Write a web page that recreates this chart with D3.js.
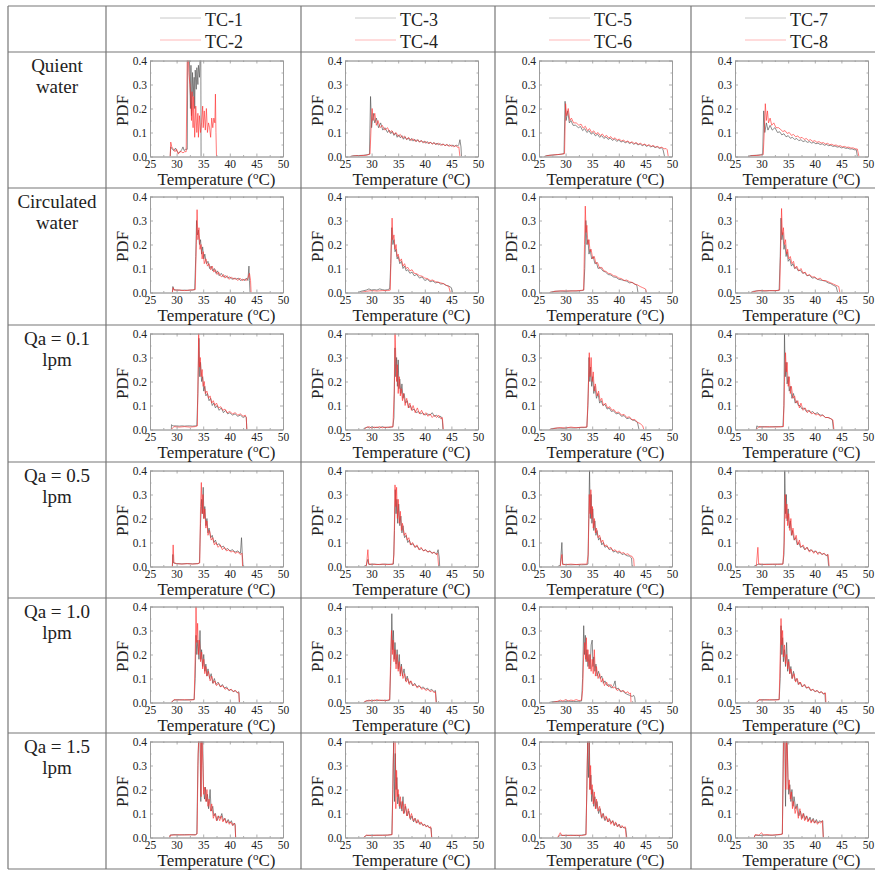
<!DOCTYPE html>
<html>
<head>
<meta charset="utf-8">
<script src="https://cdn.jsdelivr.net/npm/d3@7"></script>
<style>
  body { margin: 0; background: #fff; }
  text { font-family: "Liberation Serif", "Times New Roman", serif; fill: #222; }
</style>
</head>
<body>
<svg id="chart" width="875" height="871"></svg>
<script>
// labels
const rowLabels = [["Quient", "water"], ["Circulated", "water"], ["Qa = 0.1", "lpm"],
  ["Qa = 0.5", "lpm"], ["Qa = 1.0", "lpm"], ["Qa = 1.5", "lpm"]];
const seriesNames = [["TC-1", "TC-2"], ["TC-3", "TC-4"], ["TC-5", "TC-6"], ["TC-7", "TC-8"]];
const xTicks = [25, 30, 35, 40, 45, 50];
const yTicks = [0, 0.1, 0.2, 0.3, 0.4];

// data: flat lists of temperature, PDF pairs
// Quient water
const qw_tc1 = [28.8,0, 28.9,0.04, 29.2,0.03, 29.5,0.025, 29.8,0.035, 30.1,0.02, 30.4,0.015, 30.7,0.02, 31.0,0.03, 31.2,0.04, 31.4,0.025, 31.7,0.03, 32.0,0.03, 32.1,0.42, 32.4,0.42, 32.6,0.2, 32.7,0.38, 32.8,0.17, 33.0,0.35, 33.1,0.25, 33.3,0.33, 33.4,0.2, 33.5,0.36, 33.7,0.28, 33.8,0.37, 34.0,0.3, 34.1,0.38, 34.3,0.33, 34.4,0.4, 34.55,0.42, 34.6,0];
const qw_tc2 = [28.8,0, 28.9,0.06, 29.1,0.04, 29.4,0.03, 29.7,0.02, 30.0,0.03, 30.3,0.01, 30.6,0.02, 30.9,0.02, 31.2,0.015, 31.5,0.02, 31.8,0.02, 32.0,0.42, 32.2,0.42, 32.3,0.35, 32.5,0.3, 32.7,0.22, 32.8,0.15, 32.9,0.27, 33.1,0.12, 33.2,0.25, 33.4,0.08, 33.6,0.21, 33.8,0.1, 34.0,0.18, 34.1,0.08, 34.3,0.17, 34.5,0.1, 34.7,0.14, 34.9,0.21, 35.0,0.12, 35.2,0.19, 35.4,0.11, 35.6,0.2, 35.8,0.1, 36.0,0.14, 36.2,0.12, 36.4,0.08, 36.6,0.16, 36.8,0.12, 37.0,0.16, 37.2,0.14, 37.3,0.26, 37.4,0.1, 37.5,0];
const qw_tc3 = [26,0, 26.5,0.003, 27.5,0.004, 28.5,0.005, 29.3,0.008, 29.6,0.01, 29.8,0.25, 30.0,0.12, 30.3,0.18, 30.6,0.14, 30.9,0.16, 31.3,0.12, 31.7,0.14, 32.1,0.11, 32.5,0.12, 33,0.1, 33.3,0.11, 33.6,0.095, 33.9,0.105, 34.2,0.088, 34.5,0.098, 34.8,0.08, 35.1,0.09, 35.4,0.078, 35.7,0.087, 36,0.072, 36.3,0.082, 36.6,0.07, 36.9,0.078, 37.2,0.066, 37.5,0.075, 37.8,0.064, 38.1,0.072, 38.4,0.062, 38.7,0.07, 39,0.06, 39.3,0.067, 39.6,0.058, 39.9,0.064, 40.2,0.055, 40.5,0.062, 40.8,0.053, 41.1,0.06, 41.4,0.052, 41.7,0.058, 42,0.05, 42.3,0.056, 42.6,0.048, 42.9,0.054, 43.2,0.047, 43.5,0.052, 43.8,0.045, 44.1,0.05, 44.4,0.044, 44.7,0.049, 45,0.043, 45.3,0.048, 45.6,0.042, 45.9,0.047, 46.2,0.044, 46.4,0.05, 46.6,0.07, 46.8,0.04, 46.9,0];
const qw_tc4 = [26,0, 27,0.003, 28,0.004, 29,0.005, 29.7,0.01, 29.9,0.12, 30.1,0.2, 30.3,0.15, 30.6,0.18, 30.9,0.13, 31.2,0.15, 31.6,0.12, 32,0.13, 32.5,0.11, 33,0.12, 33.4,0.1, 33.8,0.108, 34.2,0.092, 34.6,0.1, 35,0.084, 35.4,0.092, 35.8,0.077, 36.2,0.085, 36.6,0.071, 37,0.079, 37.4,0.067, 37.8,0.074, 38.2,0.063, 38.6,0.07, 39,0.06, 39.4,0.066, 39.8,0.057, 40.2,0.063, 40.6,0.054, 41,0.06, 41.4,0.052, 41.8,0.057, 42.2,0.05, 42.6,0.055, 43,0.047, 43.4,0.052, 43.8,0.045, 44.2,0.05, 44.6,0.043, 45,0.047, 45.4,0.041, 45.8,0.045, 46.2,0.038, 46.4,0.04, 46.6,0];
const qw_tc5 = [26,0, 26.5,0.004, 27.5,0.006, 28.5,0.008, 29.3,0.01, 29.7,0.012, 29.9,0.23, 30.1,0.15, 30.4,0.19, 30.7,0.14, 31,0.15, 31.4,0.13, 31.9,0.13, 32.4,0.12, 32.8,0.125, 33.2,0.108, 33.6,0.116, 34,0.1, 34.4,0.108, 34.8,0.093, 35.2,0.1, 35.6,0.086, 36,0.093, 36.4,0.08, 36.8,0.087, 37.2,0.075, 37.6,0.082, 38,0.071, 38.4,0.077, 38.8,0.067, 39.2,0.073, 39.6,0.063, 40,0.069, 40.4,0.06, 40.8,0.065, 41.2,0.057, 41.6,0.062, 42,0.054, 42.4,0.059, 42.8,0.051, 43.2,0.056, 43.6,0.048, 44,0.053, 44.4,0.045, 44.8,0.05, 45.2,0.042, 45.6,0.047, 46,0.04, 46.4,0.044, 46.8,0.037, 47.2,0.041, 47.6,0.034, 48,0.036, 48.3,0.03, 48.6,0];
const qw_tc6 = [26,0, 27,0.005, 28,0.007, 29,0.009, 29.8,0.012, 30.0,0.22, 30.2,0.17, 30.5,0.2, 30.8,0.15, 31.1,0.16, 31.5,0.14, 32,0.14, 32.5,0.13, 32.9,0.135, 33.3,0.118, 33.7,0.126, 34.1,0.108, 34.5,0.116, 34.9,0.1, 35.3,0.107, 35.7,0.093, 36.1,0.1, 36.5,0.087, 36.9,0.094, 37.3,0.082, 37.7,0.088, 38.1,0.077, 38.5,0.083, 38.9,0.072, 39.3,0.078, 39.7,0.068, 40.1,0.073, 40.5,0.064, 40.9,0.069, 41.3,0.06, 41.7,0.065, 42.1,0.057, 42.5,0.061, 42.9,0.054, 43.3,0.058, 43.7,0.051, 44.1,0.055, 44.5,0.048, 44.9,0.052, 45.3,0.045, 45.7,0.049, 46.1,0.042, 46.5,0.046, 46.9,0.039, 47.3,0.042, 47.7,0.036, 48.1,0.039, 48.5,0.032, 48.9,0.033, 49.1,0.028, 49.3,0];
const qw_tc7 = [27.5,0, 28,0.004, 29,0.005, 29.8,0.007, 30.2,0.008, 30.4,0.19, 30.6,0.1, 30.9,0.14, 31.2,0.11, 31.6,0.13, 32,0.11, 32.5,0.12, 33,0.1, 33.4,0.103, 33.8,0.09, 34.2,0.095, 34.6,0.082, 35,0.087, 35.4,0.076, 35.8,0.08, 36.2,0.071, 36.6,0.075, 37,0.066, 37.4,0.07, 37.8,0.062, 38.2,0.066, 38.6,0.059, 39,0.062, 39.4,0.056, 39.8,0.059, 40.2,0.053, 40.6,0.056, 41,0.05, 41.4,0.053, 41.8,0.047, 42.2,0.05, 42.6,0.045, 43,0.047, 43.4,0.042, 43.8,0.044, 44.2,0.039, 44.6,0.041, 45,0.036, 45.4,0.038, 45.8,0.034, 46.2,0.035, 46.6,0.031, 47,0.032, 47.4,0.028, 47.8,0.028, 48,0];
const qw_tc8 = [27.5,0, 28.5,0.004, 29.5,0.005, 30.3,0.008, 30.5,0.1, 30.7,0.22, 30.9,0.15, 31.1,0.19, 31.3,0.14, 31.6,0.16, 31.9,0.13, 32.3,0.14, 32.7,0.12, 33.2,0.12, 33.6,0.112, 34,0.104, 34.4,0.108, 34.8,0.096, 35.2,0.1, 35.6,0.088, 36,0.092, 36.4,0.082, 36.8,0.086, 37.2,0.076, 37.6,0.08, 38,0.071, 38.4,0.075, 38.8,0.067, 39.2,0.07, 39.6,0.063, 40,0.066, 40.4,0.059, 40.8,0.062, 41.2,0.056, 41.6,0.058, 42,0.052, 42.4,0.055, 42.8,0.049, 43.2,0.051, 43.6,0.046, 44,0.048, 44.4,0.043, 44.8,0.045, 45.2,0.04, 45.6,0.042, 46,0.038, 46.4,0.039, 46.8,0.035, 47.2,0.036, 47.6,0.032, 48.0,0.031, 48.3,0];

// Circulated water
const cw_tc1 = [29.2,0, 29.3,0.025, 29.5,0.012, 30,0.01, 30.5,0.01, 31,0.009, 31.5,0.01, 32,0.009, 32.5,0.01, 33,0.01, 33.4,0.012, 33.6,0.15, 33.75,0.3, 33.9,0.24, 34.1,0.26, 34.3,0.2, 34.5,0.22, 34.7,0.16, 34.9,0.19, 35.1,0.14, 35.3,0.16, 35.6,0.12, 35.9,0.13, 36.2,0.1, 36.5,0.11, 36.8,0.09, 37.1,0.1, 37.4,0.08, 37.7,0.09, 38,0.07, 38.4,0.08, 38.8,0.065, 39.2,0.07, 39.6,0.06, 40,0.065, 40.4,0.055, 40.8,0.06, 41.2,0.055, 41.6,0.06, 42,0.05, 42.4,0.055, 42.8,0.05, 43.1,0.06, 43.4,0.05, 43.6,0.11, 43.7,0.05, 43.8,0];
const cw_tc2 = [29.2,0, 29.35,0.02, 29.5,0.01, 30.5,0.01, 31.5,0.008, 32.5,0.01, 33.5,0.012, 33.7,0.2, 33.85,0.345, 34.0,0.22, 34.2,0.27, 34.4,0.18, 34.6,0.2, 34.8,0.14, 35.0,0.17, 35.2,0.12, 35.5,0.14, 35.8,0.11, 36.1,0.12, 36.4,0.095, 36.7,0.11, 37,0.085, 37.3,0.095, 37.6,0.075, 37.9,0.085, 38.2,0.07, 38.5,0.065, 38.8,0.075, 39.1,0.06, 39.5,0.07, 39.9,0.055, 40.3,0.065, 40.7,0.055, 41.1,0.06, 41.5,0.05, 41.9,0.06, 42.3,0.05, 42.7,0.055, 43.1,0.05, 43.4,0.06, 43.7,0.08, 43.9,0.05, 44.0,0];
const cw_tc3 = [27.5,0, 28,0.005, 29,0.01, 29.5,0.015, 30,0.01, 30.5,0.012, 31,0.01, 31.5,0.015, 32,0.012, 32.5,0.01, 33,0.012, 33.4,0.015, 33.6,0.12, 33.8,0.27, 34.0,0.2, 34.2,0.22, 34.4,0.17, 34.6,0.18, 34.8,0.14, 35.0,0.15, 35.3,0.12, 35.6,0.13, 35.9,0.1, 36.2,0.11, 36.5,0.09, 36.8,0.095, 37.2,0.08, 37.6,0.085, 38,0.07, 38.5,0.075, 39,0.06, 39.5,0.065, 40,0.05, 40.5,0.055, 41,0.045, 41.5,0.048, 42,0.04, 42.5,0.043, 43,0.035, 43.5,0.037, 44,0.03, 44.5,0.027, 45,0.02, 45.2,0];
const cw_tc4 = [28,0, 29,0.005, 30,0.008, 31,0.006, 32,0.008, 33,0.008, 33.5,0.01, 33.7,0.2, 33.85,0.31, 34.0,0.22, 34.2,0.24, 34.4,0.18, 34.6,0.2, 34.8,0.15, 35.0,0.16, 35.3,0.13, 35.6,0.14, 35.9,0.11, 36.2,0.12, 36.5,0.1, 36.8,0.105, 37.2,0.09, 37.6,0.095, 38,0.08, 38.5,0.078, 39,0.07, 39.5,0.068, 40,0.06, 40.5,0.058, 41,0.05, 41.5,0.052, 42,0.045, 42.5,0.043, 43,0.04, 43.5,0.037, 44,0.03, 44.5,0.025, 44.8,0];
const cw_tc5 = [27,0, 28,0.005, 29,0.006, 30,0.005, 31,0.007, 32,0.006, 33,0.008, 33.4,0.01, 33.6,0.1, 33.8,0.3, 34.0,0.2, 34.2,0.22, 34.4,0.16, 34.6,0.18, 34.9,0.14, 35.2,0.15, 35.5,0.12, 35.8,0.125, 36.1,0.1, 36.5,0.105, 37,0.09, 37.5,0.085, 38,0.075, 38.5,0.073, 39,0.065, 39.5,0.063, 40,0.055, 40.5,0.053, 41,0.05, 41.5,0.047, 42,0.04, 42.5,0.042, 43,0.035, 43.4,0.03, 43.6,0];
const cw_tc6 = [27,0, 28,0.005, 29.5,0.007, 31,0.006, 32.5,0.008, 33.4,0.01, 33.55,0.2, 33.7,0.36, 33.85,0.25, 34.0,0.28, 34.2,0.2, 34.4,0.22, 34.6,0.17, 34.8,0.18, 35.1,0.14, 35.4,0.15, 35.7,0.12, 36,0.125, 36.4,0.1, 36.8,0.105, 37.2,0.09, 37.6,0.088, 38,0.08, 38.5,0.078, 39,0.07, 39.5,0.068, 40,0.06, 40.5,0.058, 41,0.05, 41.5,0.052, 42,0.045, 42.5,0.042, 43,0.035, 43.5,0.032, 44,0.025, 44.5,0.02, 45,0.015, 45.2,0];
const cw_tc7 = [28,0, 28.5,0.005, 29.5,0.008, 30.5,0.006, 31.5,0.008, 32.5,0.007, 33.3,0.01, 33.5,0.15, 33.65,0.31, 33.8,0.22, 34.0,0.25, 34.2,0.18, 34.4,0.2, 34.6,0.15, 34.8,0.17, 35.0,0.13, 35.3,0.14, 35.6,0.11, 35.9,0.12, 36.2,0.1, 36.5,0.105, 36.9,0.09, 37.3,0.093, 37.7,0.08, 38.1,0.083, 38.5,0.07, 39,0.072, 39.5,0.06, 40,0.062, 40.5,0.055, 41,0.052, 41.5,0.05, 42,0.047, 42.5,0.04, 43,0.037, 43.5,0.03, 44,0.025, 44.3,0];
const cw_tc8 = [28,0, 29,0.006, 30,0.008, 31,0.007, 32,0.008, 33,0.008, 33.4,0.01, 33.6,0.2, 33.75,0.35, 33.9,0.24, 34.1,0.27, 34.3,0.2, 34.5,0.22, 34.7,0.16, 34.9,0.18, 35.1,0.14, 35.4,0.15, 35.7,0.12, 36,0.13, 36.3,0.1, 36.6,0.11, 37,0.09, 37.4,0.1, 37.8,0.08, 38.2,0.085, 38.6,0.07, 39,0.075, 39.5,0.065, 40,0.065, 40.5,0.055, 41,0.06, 41.5,0.05, 42,0.05, 42.5,0.045, 43,0.04, 43.5,0.035, 44,0.03, 44.5,0.025, 44.7,0];

// Qa = 0.1 lpm
const q01_tc1 = [29,0, 29.05,0.02, 29.3,0.015, 30,0.015, 30.5,0.014, 31,0.015, 31.5,0.014, 32,0.015, 32.5,0.015, 33,0.014, 33.5,0.015, 33.8,0.016, 34.0,0.15, 34.2,0.38, 34.35,0.22, 34.5,0.28, 34.7,0.2, 34.9,0.22, 35.1,0.16, 35.3,0.18, 35.5,0.14, 35.8,0.15, 36.1,0.12, 36.4,0.13, 36.7,0.1, 37,0.11, 37.3,0.09, 37.6,0.1, 38,0.08, 38.4,0.09, 38.8,0.07, 39.2,0.08, 39.6,0.065, 40,0.07, 40.5,0.06, 41,0.065, 41.5,0.055, 42,0.06, 42.5,0.05, 42.9,0.055, 43.1,0.05, 43.2,0];
const q01_tc2 = [29,0, 29.5,0.012, 30.5,0.01, 31.5,0.012, 32.5,0.01, 33.5,0.012, 33.9,0.015, 34.05,0.25, 34.15,0.4, 34.3,0.26, 34.45,0.3, 34.6,0.22, 34.8,0.25, 35.0,0.18, 35.2,0.2, 35.4,0.15, 35.7,0.16, 36,0.13, 36.3,0.14, 36.6,0.11, 36.9,0.12, 37.2,0.1, 37.5,0.11, 37.9,0.09, 38.3,0.095, 38.7,0.08, 39.1,0.085, 39.5,0.07, 40,0.075, 40.5,0.065, 41,0.07, 41.5,0.06, 42,0.065, 42.5,0.055, 42.9,0.06, 43.1,0.05, 43.2,0];
const q01_tc3 = [28.4,0, 28.6,0.005, 29.2,0.01, 29.6,0.006, 30.1,0.012, 30.5,0.007, 31,0.01, 31.5,0.006, 32,0.012, 32.5,0.008, 33,0.01, 33.5,0.008, 34,0.012, 34.2,0.05, 34.4,0.34, 34.55,0.22, 34.7,0.3, 34.85,0.18, 35.0,0.29, 35.15,0.17, 35.3,0.21, 35.5,0.15, 35.7,0.19, 35.9,0.13, 36.1,0.15, 36.4,0.11, 36.7,0.12, 37,0.09, 37.3,0.1, 37.6,0.08, 38,0.085, 38.4,0.07, 38.8,0.075, 39.2,0.065, 39.6,0.07, 40,0.06, 40.5,0.065, 41,0.06, 41.4,0.07, 41.8,0.055, 42.2,0.06, 42.6,0.05, 43,0.055, 43.3,0.04, 43.4,0];
const q01_tc4 = [28.6,0, 29,0.008, 29.5,0.012, 30,0.006, 30.5,0.01, 31,0.008, 31.5,0.012, 32,0.007, 32.5,0.01, 33,0.008, 33.5,0.012, 34,0.01, 34.25,0.15, 34.4,0.42, 34.55,0.3, 34.7,0.2, 34.85,0.27, 35.0,0.15, 35.2,0.22, 35.4,0.14, 35.6,0.17, 35.8,0.12, 36,0.15, 36.3,0.1, 36.6,0.13, 36.9,0.09, 37.2,0.11, 37.5,0.08, 37.8,0.1, 38.2,0.07, 38.6,0.09, 39,0.065, 39.4,0.08, 39.8,0.06, 40.2,0.07, 40.6,0.055, 41,0.065, 41.4,0.05, 41.8,0.06, 42.2,0.05, 42.6,0.06, 43,0.045, 43.3,0.05, 43.5,0];
const q01_tc5 = [27,0, 27.5,0.004, 28.5,0.006, 29.5,0.005, 30.5,0.007, 31.5,0.006, 32.5,0.008, 33.5,0.008, 34,0.01, 34.2,0.1, 34.4,0.3, 34.55,0.2, 34.7,0.26, 34.9,0.18, 35.1,0.22, 35.3,0.15, 35.5,0.18, 35.8,0.13, 36.1,0.15, 36.4,0.11, 36.7,0.12, 37,0.1, 37.4,0.105, 37.8,0.085, 38.2,0.09, 38.6,0.075, 39,0.078, 39.5,0.065, 40,0.068, 40.5,0.055, 41,0.058, 41.5,0.045, 42,0.048, 42.5,0.04, 43,0.037, 43.5,0.03, 43.8,0];
const q01_tc6 = [27,0, 28,0.005, 29,0.008, 30,0.006, 31,0.01, 32,0.007, 33,0.01, 34,0.01, 34.25,0.15, 34.45,0.32, 34.6,0.22, 34.8,0.3, 35.0,0.2, 35.2,0.24, 35.4,0.16, 35.6,0.19, 35.9,0.14, 36.2,0.16, 36.5,0.12, 36.8,0.13, 37.1,0.1, 37.5,0.11, 37.9,0.09, 38.3,0.095, 38.7,0.08, 39.1,0.083, 39.5,0.07, 40,0.073, 40.5,0.06, 41,0.063, 41.5,0.05, 42,0.053, 42.5,0.04, 43,0.042, 43.5,0.03, 44,0.025, 44.5,0.015, 44.7,0];
const q01_tc7 = [29,0, 29.1,0.015, 29.5,0.01, 30.5,0.012, 31.5,0.01, 32.5,0.012, 33.5,0.011, 34.0,0.012, 34.2,0.1, 34.3,0.4, 34.45,0.22, 34.6,0.28, 34.8,0.19, 35.0,0.22, 35.2,0.16, 35.4,0.18, 35.7,0.13, 36,0.15, 36.3,0.11, 36.6,0.12, 36.9,0.1, 37.2,0.1, 37.6,0.085, 38,0.09, 38.4,0.075, 38.8,0.08, 39.2,0.07, 39.6,0.075, 40,0.065, 40.5,0.07, 41,0.06, 41.5,0.06, 42,0.05, 42.5,0.05, 43,0.045, 43.3,0.04, 43.5,0];
const q01_tc8 = [29,0, 29.5,0.012, 30.5,0.01, 31.5,0.012, 32.5,0.01, 33.5,0.012, 34.1,0.012, 34.3,0.2, 34.5,0.32, 34.65,0.24, 34.8,0.28, 35.0,0.18, 35.2,0.22, 35.4,0.15, 35.6,0.18, 35.9,0.13, 36.2,0.14, 36.5,0.11, 36.8,0.12, 37.1,0.09, 37.4,0.11, 37.8,0.08, 38.2,0.09, 38.6,0.07, 39,0.08, 39.4,0.065, 39.8,0.07, 40.2,0.06, 40.6,0.065, 41,0.055, 41.5,0.06, 42,0.05, 42.5,0.05, 43,0.045, 43.4,0.04, 43.6,0];

// Qa = 0.5 lpm
const q05_tc1 = [29.2,0, 29.3,0.05, 29.4,0.015, 30,0.012, 31,0.011, 32,0.012, 33,0.011, 34,0.012, 34.3,0.015, 34.5,0.18, 34.7,0.28, 34.85,0.22, 35.0,0.33, 35.15,0.2, 35.3,0.25, 35.5,0.17, 35.7,0.2, 35.9,0.14, 36.1,0.16, 36.4,0.12, 36.7,0.13, 37,0.1, 37.3,0.11, 37.6,0.09, 38,0.095, 38.4,0.08, 38.8,0.085, 39.2,0.07, 39.6,0.075, 40,0.065, 40.5,0.07, 41,0.06, 41.5,0.065, 42,0.055, 42.2,0.12, 42.35,0.05, 42.5,0];
const q05_tc2 = [29.2,0, 29.35,0.09, 29.5,0.015, 30,0.012, 31,0.01, 32,0.012, 33,0.01, 34,0.012, 34.35,0.015, 34.5,0.25, 34.65,0.35, 34.8,0.22, 34.95,0.3, 35.1,0.2, 35.3,0.24, 35.5,0.16, 35.7,0.19, 35.9,0.13, 36.2,0.15, 36.5,0.11, 36.8,0.12, 37.1,0.09, 37.4,0.1, 37.8,0.08, 38.2,0.09, 38.6,0.07, 39,0.08, 39.4,0.065, 39.8,0.07, 40.2,0.06, 40.6,0.065, 41,0.055, 41.5,0.06, 42,0.05, 42.3,0.055, 42.4,0];
const q05_tc3 = [28.5,0, 29,0.005, 29.3,0.03, 29.5,0.008, 30.5,0.01, 31.5,0.008, 32.5,0.01, 33.5,0.009, 34.1,0.01, 34.3,0.15, 34.45,0.32, 34.6,0.22, 34.75,0.28, 34.9,0.18, 35.1,0.26, 35.3,0.17, 35.5,0.21, 35.7,0.14, 35.9,0.17, 36.2,0.12, 36.5,0.13, 36.8,0.1, 37.1,0.11, 37.4,0.09, 37.8,0.095, 38.2,0.08, 38.6,0.085, 39,0.07, 39.4,0.075, 39.8,0.065, 40.2,0.07, 40.6,0.06, 41,0.065, 41.4,0.055, 41.8,0.06, 42.2,0.05, 42.5,0.07, 42.7,0.04, 42.8,0];
const q05_tc4 = [29,0, 29.3,0.07, 29.45,0.01, 30,0.01, 31,0.008, 32,0.01, 33,0.008, 34,0.01, 34.2,0.05, 34.4,0.34, 34.55,0.25, 34.7,0.33, 34.85,0.2, 35.0,0.28, 35.2,0.18, 35.4,0.23, 35.6,0.15, 35.8,0.18, 36.1,0.13, 36.4,0.14, 36.7,0.11, 37,0.12, 37.3,0.09, 37.7,0.1, 38.1,0.08, 38.5,0.09, 38.9,0.07, 39.3,0.08, 39.7,0.065, 40.1,0.07, 40.5,0.06, 40.9,0.065, 41.3,0.055, 41.7,0.06, 42.1,0.05, 42.4,0.055, 42.6,0];
const q05_tc5 = [28.5,0, 29,0.005, 29.3,0.1, 29.45,0.01, 30,0.008, 31,0.007, 32,0.008, 33,0.007, 34,0.008, 34.2,0.01, 34.35,0.2, 34.5,0.4, 34.65,0.2, 34.8,0.3, 34.95,0.18, 35.1,0.24, 35.3,0.15, 35.5,0.19, 35.7,0.13, 35.9,0.15, 36.2,0.11, 36.5,0.12, 36.8,0.09, 37.1,0.1, 37.4,0.08, 37.8,0.085, 38.2,0.07, 38.6,0.075, 39,0.06, 39.4,0.065, 39.8,0.055, 40.2,0.06, 40.6,0.05, 41,0.053, 41.5,0.045, 42,0.043, 42.4,0.035, 42.5,0];
const q05_tc6 = [29,0, 29.3,0.05, 29.45,0.008, 30,0.008, 31,0.01, 32,0.008, 33,0.01, 34,0.01, 34.25,0.05, 34.45,0.3, 34.6,0.22, 34.75,0.32, 34.9,0.2, 35.05,0.25, 35.2,0.16, 35.4,0.2, 35.6,0.14, 35.8,0.16, 36.1,0.12, 36.4,0.13, 36.7,0.1, 37,0.11, 37.3,0.085, 37.7,0.09, 38.1,0.075, 38.5,0.08, 38.9,0.065, 39.3,0.07, 39.7,0.06, 40.1,0.065, 40.5,0.055, 40.9,0.058, 41.3,0.05, 41.7,0.053, 42.1,0.045, 42.5,0.042, 42.8,0.03, 42.9,0];
const q05_tc7 = [28.5,0, 29,0.006, 29.5,0.01, 30,0.008, 31,0.01, 32,0.009, 33,0.01, 34,0.01, 34.2,0.05, 34.35,0.4, 34.5,0.22, 34.65,0.3, 34.8,0.19, 35.0,0.24, 35.2,0.16, 35.4,0.19, 35.6,0.13, 35.8,0.15, 36.1,0.11, 36.4,0.12, 36.7,0.09, 37,0.1, 37.3,0.08, 37.7,0.085, 38.1,0.07, 38.5,0.08, 38.9,0.065, 39.3,0.07, 39.7,0.06, 40.1,0.065, 40.5,0.055, 40.9,0.06, 41.3,0.05, 41.7,0.055, 42.1,0.045, 42.4,0.05, 42.6,0];
const q05_tc8 = [29,0, 29.3,0.08, 29.45,0.01, 30,0.01, 31,0.008, 32,0.01, 33,0.009, 34,0.01, 34.25,0.1, 34.45,0.3, 34.6,0.2, 34.75,0.26, 34.9,0.17, 35.1,0.22, 35.3,0.15, 35.5,0.2, 35.7,0.13, 35.9,0.16, 36.2,0.11, 36.5,0.13, 36.8,0.09, 37.1,0.11, 37.4,0.08, 37.8,0.09, 38.2,0.07, 38.6,0.08, 39,0.06, 39.4,0.07, 39.8,0.055, 40.2,0.065, 40.6,0.05, 41,0.06, 41.4,0.05, 41.8,0.055, 42.2,0.045, 42.5,0.05, 42.7,0];

// Qa = 1.0 lpm
const q10_tc1 = [29,0, 29.5,0.01, 30.5,0.012, 31.5,0.01, 32.5,0.012, 33.3,0.012, 33.5,0.1, 33.65,0.28, 33.8,0.2, 34.0,0.26, 34.2,0.18, 34.4,0.3, 34.55,0.18, 34.7,0.22, 34.9,0.15, 35.1,0.2, 35.3,0.13, 35.5,0.16, 35.7,0.11, 35.9,0.14, 36.2,0.1, 36.5,0.12, 36.8,0.08, 37.1,0.1, 37.4,0.075, 37.8,0.085, 38.2,0.065, 38.6,0.075, 39,0.06, 39.4,0.065, 39.8,0.05, 40.2,0.055, 40.6,0.045, 41,0.05, 41.4,0.04, 41.7,0.045, 41.8,0];
const q10_tc2 = [29,0, 29.5,0.012, 30.5,0.01, 31.5,0.012, 32.5,0.01, 33.3,0.012, 33.5,0.2, 33.65,0.4, 33.8,0.25, 33.95,0.33, 34.1,0.2, 34.3,0.26, 34.5,0.17, 34.7,0.21, 34.9,0.14, 35.1,0.18, 35.3,0.12, 35.5,0.15, 35.7,0.11, 36,0.13, 36.3,0.09, 36.6,0.11, 36.9,0.08, 37.2,0.09, 37.5,0.07, 37.9,0.08, 38.3,0.065, 38.7,0.07, 39.1,0.055, 39.5,0.06, 39.9,0.05, 40.3,0.055, 40.7,0.045, 41.1,0.05, 41.5,0.04, 41.7,0.04, 41.8,0];
const q10_tc3 = [28.5,0, 29,0.005, 29.5,0.01, 30,0.006, 30.5,0.01, 31,0.007, 31.5,0.01, 32,0.008, 32.5,0.01, 33,0.008, 33.4,0.01, 33.6,0.15, 33.8,0.37, 33.95,0.22, 34.1,0.3, 34.25,0.18, 34.4,0.25, 34.6,0.16, 34.8,0.22, 35.0,0.14, 35.2,0.2, 35.4,0.12, 35.6,0.16, 35.8,0.11, 36.1,0.14, 36.4,0.09, 36.7,0.11, 37,0.08, 37.3,0.09, 37.7,0.07, 38.1,0.08, 38.5,0.065, 38.9,0.07, 39.3,0.06, 39.7,0.065, 40.1,0.055, 40.5,0.06, 40.9,0.05, 41.3,0.055, 41.7,0.045, 42.0,0.05, 42.2,0];
const q10_tc4 = [28.5,0, 29,0.008, 29.5,0.006, 30,0.01, 30.5,0.007, 31,0.012, 31.5,0.008, 32,0.01, 32.5,0.007, 33,0.01, 33.4,0.012, 33.6,0.2, 33.75,0.3, 33.9,0.2, 34.05,0.26, 34.2,0.17, 34.4,0.22, 34.6,0.14, 34.8,0.2, 35.0,0.13, 35.2,0.17, 35.4,0.11, 35.6,0.15, 35.9,0.1, 36.2,0.12, 36.5,0.085, 36.8,0.1, 37.1,0.075, 37.4,0.09, 37.8,0.07, 38.2,0.075, 38.6,0.06, 39,0.07, 39.4,0.055, 39.8,0.06, 40.2,0.05, 40.6,0.055, 41,0.045, 41.4,0.05, 41.8,0.04, 42.0,0.045, 42.1,0];
const q10_tc5 = [26.9,0, 27.5,0.003, 28.5,0.004, 29.5,0.003, 30.5,0.005, 31.5,0.004, 32.5,0.005, 33.0,0.006, 33.2,0.1, 33.4,0.32, 33.55,0.2, 33.7,0.28, 33.85,0.17, 34.0,0.22, 34.2,0.15, 34.4,0.2, 34.6,0.14, 34.8,0.24, 35.0,0.26, 35.15,0.15, 35.3,0.19, 35.5,0.13, 35.7,0.16, 35.9,0.11, 36.2,0.13, 36.5,0.1, 36.8,0.11, 37.1,0.08, 37.4,0.09, 37.8,0.07, 38.2,0.075, 38.6,0.06, 39.0,0.07, 39.3,0.09, 39.5,0.055, 39.9,0.06, 40.3,0.045, 40.7,0.05, 41.1,0.04, 41.5,0.035, 42,0.03, 42.5,0.025, 42.8,0.03, 43.0,0.02, 43.1,0];
const q10_tc6 = [27.5,0, 28.5,0.005, 29,0.01, 29.5,0.006, 30,0.012, 30.5,0.007, 31,0.01, 31.5,0.008, 32,0.012, 32.5,0.008, 33.0,0.01, 33.2,0.05, 33.4,0.2, 33.6,0.25, 33.75,0.18, 33.9,0.27, 34.05,0.17, 34.2,0.22, 34.4,0.14, 34.6,0.2, 34.8,0.13, 35.0,0.18, 35.2,0.12, 35.4,0.22, 35.6,0.11, 35.8,0.15, 36.1,0.1, 36.4,0.12, 36.7,0.085, 37,0.1, 37.3,0.07, 37.7,0.085, 38.1,0.065, 38.5,0.075, 38.9,0.06, 39.3,0.065, 39.7,0.05, 40.1,0.055, 40.5,0.045, 40.9,0.05, 41.3,0.04, 41.7,0.045, 42.0,0.035, 42.2,0.04, 42.3,0];
const q10_tc7 = [29,0, 29.5,0.01, 30.5,0.012, 31.5,0.01, 32.5,0.012, 33.3,0.012, 33.5,0.1, 33.65,0.32, 33.8,0.2, 33.95,0.27, 34.1,0.17, 34.3,0.22, 34.5,0.15, 34.7,0.25, 34.9,0.13, 35.1,0.18, 35.3,0.12, 35.5,0.15, 35.7,0.1, 36,0.13, 36.3,0.09, 36.6,0.1, 36.9,0.075, 37.2,0.085, 37.6,0.065, 38,0.075, 38.4,0.06, 38.8,0.065, 39.2,0.05, 39.6,0.055, 40,0.045, 40.4,0.05, 40.8,0.04, 41.2,0.045, 41.6,0.035, 41.9,0.04, 42.0,0];
const q10_tc8 = [29,0, 29.5,0.012, 30.5,0.01, 31.5,0.012, 32.5,0.01, 33.3,0.012, 33.5,0.2, 33.65,0.35, 33.8,0.24, 33.95,0.3, 34.1,0.19, 34.3,0.24, 34.5,0.16, 34.7,0.2, 34.9,0.14, 35.1,0.17, 35.3,0.12, 35.5,0.14, 35.8,0.1, 36.1,0.12, 36.4,0.085, 36.7,0.1, 37,0.075, 37.3,0.085, 37.7,0.065, 38.1,0.075, 38.5,0.06, 38.9,0.065, 39.3,0.05, 39.7,0.055, 40.1,0.045, 40.5,0.05, 40.9,0.04, 41.3,0.045, 41.7,0.035, 42.0,0.04, 42.1,0];

// Qa = 1.5 lpm
const q15_tc1 = [28.7,0, 28.8,0.01, 29.5,0.012, 30.5,0.01, 31.5,0.012, 32.5,0.011, 33.5,0.012, 33.8,0.015, 34.0,0.3, 34.15,0.42, 34.4,0.42, 34.55,0.15, 34.7,0.42, 34.9,0.42, 35.05,0.2, 35.25,0.16, 35.4,0.21, 35.6,0.15, 35.8,0.18, 36.0,0.12, 36.3,0.2, 36.5,0.11, 36.8,0.13, 37.0,0.09, 37.3,0.1, 37.6,0.07, 37.9,0.09, 38.2,0.08, 38.5,0.1, 38.8,0.07, 39.1,0.08, 39.4,0.06, 39.7,0.075, 40.0,0.06, 40.3,0.07, 40.6,0.05, 40.9,0.06, 41.0,0.055, 41.1,0];
const q15_tc2 = [28.7,0, 28.8,0.01, 29.5,0.01, 30.5,0.012, 31.5,0.01, 32.5,0.012, 33.5,0.01, 33.85,0.015, 34.05,0.35, 34.2,0.42, 34.45,0.42, 34.6,0.17, 34.75,0.42, 34.95,0.3, 35.1,0.18, 35.3,0.21, 35.5,0.15, 35.7,0.2, 35.9,0.13, 36.1,0.16, 36.4,0.11, 36.6,0.14, 36.9,0.08, 37.2,0.1, 37.5,0.07, 37.8,0.09, 38.1,0.07, 38.4,0.09, 38.7,0.065, 39,0.08, 39.3,0.06, 39.6,0.07, 39.9,0.055, 40.2,0.065, 40.5,0.05, 40.8,0.06, 41.0,0.05, 41.1,0];
const q15_tc3 = [28.5,0, 29,0.008, 30,0.01, 31,0.009, 32,0.01, 33,0.01, 33.8,0.012, 34.0,0.2, 34.15,0.42, 34.3,0.15, 34.45,0.35, 34.6,0.2, 34.75,0.25, 34.9,0.14, 35.1,0.18, 35.3,0.12, 35.5,0.15, 35.7,0.11, 35.9,0.17, 36.1,0.1, 36.4,0.13, 36.7,0.09, 37,0.11, 37.3,0.075, 37.6,0.09, 37.9,0.065, 38.2,0.08, 38.5,0.06, 38.8,0.07, 39.1,0.055, 39.4,0.06, 39.7,0.05, 40.0,0.055, 40.3,0.045, 40.6,0.05, 40.9,0.04, 41.2,0.04, 41.3,0];
const q15_tc4 = [28.5,0, 29,0.01, 30,0.008, 31,0.01, 32,0.009, 33,0.01, 33.85,0.012, 34.05,0.3, 34.2,0.42, 34.45,0.42, 34.55,0.12, 34.7,0.28, 34.85,0.17, 35.0,0.2, 35.2,0.13, 35.4,0.17, 35.6,0.12, 35.8,0.15, 36.0,0.1, 36.3,0.14, 36.6,0.09, 36.9,0.12, 37.2,0.08, 37.5,0.1, 37.8,0.07, 38.1,0.08, 38.4,0.06, 38.7,0.075, 39.0,0.055, 39.3,0.065, 39.6,0.05, 39.9,0.055, 40.2,0.045, 40.5,0.05, 40.8,0.04, 41.1,0.045, 41.3,0];
const q15_tc5 = [28.5,0, 29,0.01, 30,0.008, 31,0.01, 32,0.008, 33,0.01, 33.8,0.012, 34.0,0.2, 34.15,0.4, 34.3,0.25, 34.45,0.42, 34.6,0.2, 34.75,0.26, 34.9,0.15, 35.1,0.2, 35.3,0.13, 35.5,0.17, 35.7,0.12, 35.9,0.15, 36.2,0.1, 36.5,0.12, 36.8,0.08, 37.1,0.1, 37.4,0.07, 37.7,0.085, 38,0.065, 38.3,0.075, 38.6,0.06, 38.9,0.07, 39.2,0.05, 39.5,0.06, 39.8,0.045, 40.1,0.055, 40.4,0.04, 40.7,0.045, 41,0.04, 41.3,0.04, 41.5,0];
const q15_tc6 = [28.5,0, 29,0.02, 29.3,0.008, 30,0.01, 31,0.008, 32,0.01, 33,0.008, 33.85,0.012, 34.05,0.3, 34.2,0.42, 34.4,0.42, 34.55,0.2, 34.7,0.3, 34.85,0.18, 35.0,0.22, 35.2,0.14, 35.4,0.19, 35.6,0.12, 35.8,0.16, 36.1,0.11, 36.4,0.13, 36.7,0.085, 37,0.1, 37.3,0.075, 37.6,0.09, 37.9,0.065, 38.2,0.08, 38.5,0.055, 38.8,0.07, 39.1,0.05, 39.4,0.065, 39.7,0.045, 40.0,0.055, 40.3,0.04, 40.6,0.05, 40.9,0.04, 41.2,0.045, 41.4,0];
const q15_tc7 = [28.6,0, 28.8,0.01, 29.5,0.008, 30.5,0.01, 31.5,0.009, 32.5,0.01, 33.5,0.012, 33.9,0.015, 34.1,0.42, 34.35,0.42, 34.5,0.13, 34.65,0.42, 34.8,0.42, 34.95,0.25, 35.1,0.18, 35.3,0.22, 35.5,0.15, 35.7,0.2, 35.9,0.13, 36.1,0.17, 36.4,0.12, 36.7,0.14, 37.0,0.09, 37.3,0.11, 37.6,0.08, 37.9,0.1, 38.2,0.075, 38.5,0.09, 38.8,0.07, 39.1,0.085, 39.4,0.065, 39.7,0.08, 40.0,0.06, 40.3,0.075, 40.6,0.06, 40.9,0.07, 41.2,0.065, 41.5,0.07, 41.6,0];
const q15_tc8 = [28.6,0, 28.8,0.012, 29.5,0.01, 30.0,0.02, 30.3,0.01, 31,0.012, 32,0.01, 33,0.012, 33.9,0.014, 34.15,0.42, 34.4,0.42, 34.55,0.2, 34.7,0.42, 34.85,0.35, 35.0,0.2, 35.2,0.24, 35.4,0.16, 35.6,0.19, 35.8,0.12, 36.0,0.15, 36.3,0.1, 36.6,0.13, 36.9,0.08, 37.2,0.12, 37.5,0.075, 37.8,0.1, 38.1,0.07, 38.4,0.09, 38.7,0.065, 39.0,0.08, 39.3,0.06, 39.6,0.075, 39.9,0.06, 40.2,0.07, 40.5,0.055, 40.8,0.065, 41.1,0.06, 41.4,0.07, 41.6,0];

// panel grid: rows x columns, each [gray series, red series]
const panels = [
  [[qw_tc1, qw_tc2], [qw_tc3, qw_tc4], [qw_tc5, qw_tc6], [qw_tc7, qw_tc8]],
  [[cw_tc1, cw_tc2], [cw_tc3, cw_tc4], [cw_tc5, cw_tc6], [cw_tc7, cw_tc8]],
  [[q01_tc1, q01_tc2], [q01_tc3, q01_tc4], [q01_tc5, q01_tc6], [q01_tc7, q01_tc8]],
  [[q05_tc1, q05_tc2], [q05_tc3, q05_tc4], [q05_tc5, q05_tc6], [q05_tc7, q05_tc8]],
  [[q10_tc1, q10_tc2], [q10_tc3, q10_tc4], [q10_tc5, q10_tc6], [q10_tc7, q10_tc8]],
  [[q15_tc1, q15_tc2], [q15_tc3, q15_tc4], [q15_tc5, q15_tc6], [q15_tc7, q15_tc8]]
];

function pairs(flat) {
  const out = [];
  for (let i = 0; i < flat.length; i += 2) out.push([flat[i], flat[i + 1]]);
  return out;
}

const svg = d3.select("#chart");
const colX = [8, 106, 301, 495, 691, 886];
const rowY = [6, 52, 188, 325, 462, 598, 733, 869];
const lineColors = ["#555", "#ff3030"];
const legendColors = ["#c8c8c8", "#ffb8b8"];
const gridColor = "#777";

svg.append("rect").attr("width", 875).attr("height", 871).attr("fill", "#fff");

// table lines
colX.forEach(x => svg.append("line")
  .attr("x1", x).attr("x2", x).attr("y1", rowY[0]).attr("y2", rowY[rowY.length - 1])
  .attr("stroke", gridColor).attr("stroke-width", 1.2));
rowY.forEach(y => svg.append("line")
  .attr("x1", colX[0]).attr("x2", colX[colX.length - 1]).attr("y1", y).attr("y2", y)
  .attr("stroke", gridColor).attr("stroke-width", 1.2));

// header legends
seriesNames.forEach((names, c) => {
  const left = colX[c + 1];
  names.forEach((name, k) => {
    const y = 18 + k * 22;
    svg.append("line")
      .attr("x1", left + 54).attr("x2", left + 95).attr("y1", y).attr("y2", y)
      .attr("stroke", legendColors[k]).attr("stroke-width", 1);
    svg.append("text")
      .attr("x", left + 99).attr("y", y + 7.5)
      .attr("font-size", 18).text(name);
  });
});

// row labels
rowLabels.forEach((lines, r) => {
  lines.forEach((s, k) => {
    svg.append("text")
      .attr("x", (colX[0] + colX[1]) / 2).attr("y", rowY[r + 1] + 20 + k * 21)
      .attr("text-anchor", "middle").attr("font-size", 19).text(s);
  });
});

const pw = 133, ph = 96;

panels.forEach((row, r) => {
  row.forEach((pair, c) => {
    const x0 = colX[c + 1] + 44;
    const y0 = rowY[r + 1] + 8.5;
    const g = svg.append("g").attr("transform", `translate(${x0},${y0})`);
    const x = d3.scaleLinear().domain([25, 50]).range([0, pw]);
    const y = d3.scaleLinear().domain([0, 0.4]).range([ph, 0]);

    const clipId = `clip-${r}-${c}`;
    g.append("clipPath").attr("id", clipId)
      .append("rect").attr("width", pw).attr("height", ph);

    const line = d3.line().x(d => x(d[0])).y(d => y(d[1]));
    pair.forEach((flat, k) => {
      g.append("path")
        .datum(pairs(flat))
        .attr("clip-path", `url(#${clipId})`)
        .attr("fill", "none")
        .attr("stroke", lineColors[k])
        .attr("stroke-width", 0.8)
        .attr("stroke-opacity", k === 0 ? 0.85 : 0.8)
        .attr("stroke-linejoin", "round")
        .attr("d", line);
    });

    const minorX = d3.range(27.5, 50, 5);
    const minorY = [0.05, 0.15, 0.25, 0.35];

    // bottom axis
    const bx = g.append("g").attr("transform", `translate(0,${ph})`)
      .call(d3.axisBottom(x).tickValues(xTicks).tickSize(-3).tickSizeOuter(0).tickPadding(3)
        .tickFormat(d3.format("d")));
    bx.selectAll("text").attr("font-size", 11.5).attr("font-family", "Liberation Serif, serif").attr("fill", "#222");
    // left axis
    const ly = g.append("g")
      .call(d3.axisLeft(y).tickValues(yTicks).tickSize(-3).tickSizeOuter(0).tickPadding(3)
        .tickFormat(d3.format(".1f")));
    ly.selectAll("text").attr("font-size", 11.5).attr("font-family", "Liberation Serif, serif").attr("fill", "#222");
    // top and right axes
    g.append("g").call(d3.axisTop(x).tickValues(xTicks).tickSize(-3).tickSizeOuter(0).tickFormat(""));
    g.append("g").attr("transform", `translate(${pw},0)`)
      .call(d3.axisRight(y).tickValues(yTicks).tickSize(-3).tickSizeOuter(0).tickFormat(""));
    // minor ticks
    g.append("g").attr("transform", `translate(0,${ph})`)
      .call(d3.axisBottom(x).tickValues(minorX).tickSize(-1.5).tickSizeOuter(0).tickFormat(""));
    g.append("g").call(d3.axisTop(x).tickValues(minorX).tickSize(-1.5).tickSizeOuter(0).tickFormat(""));
    g.append("g").call(d3.axisLeft(y).tickValues(minorY).tickSize(-1.5).tickSizeOuter(0).tickFormat(""));
    g.append("g").attr("transform", `translate(${pw},0)`)
      .call(d3.axisRight(y).tickValues(minorY).tickSize(-1.5).tickSizeOuter(0).tickFormat(""));

    g.selectAll(".domain, .tick line").attr("stroke", "#999").attr("stroke-width", 0.8);

    // axis titles
    const xt = g.append("text")
      .attr("x", pw / 2).attr("y", ph + 28.5)
      .attr("text-anchor", "middle").attr("font-size", 17);
    xt.append("tspan").text("Temperature (");
    xt.append("tspan").attr("font-size", 11).attr("dy", -6).text("o");
    xt.append("tspan").attr("dy", 6).text("C)");

    g.append("text")
      .attr("transform", `translate(-22,${ph / 2 + 2}) rotate(-90)`)
      .attr("text-anchor", "middle").attr("font-size", 17).text("PDF");
  });
});
</script>
</body>
</html>
